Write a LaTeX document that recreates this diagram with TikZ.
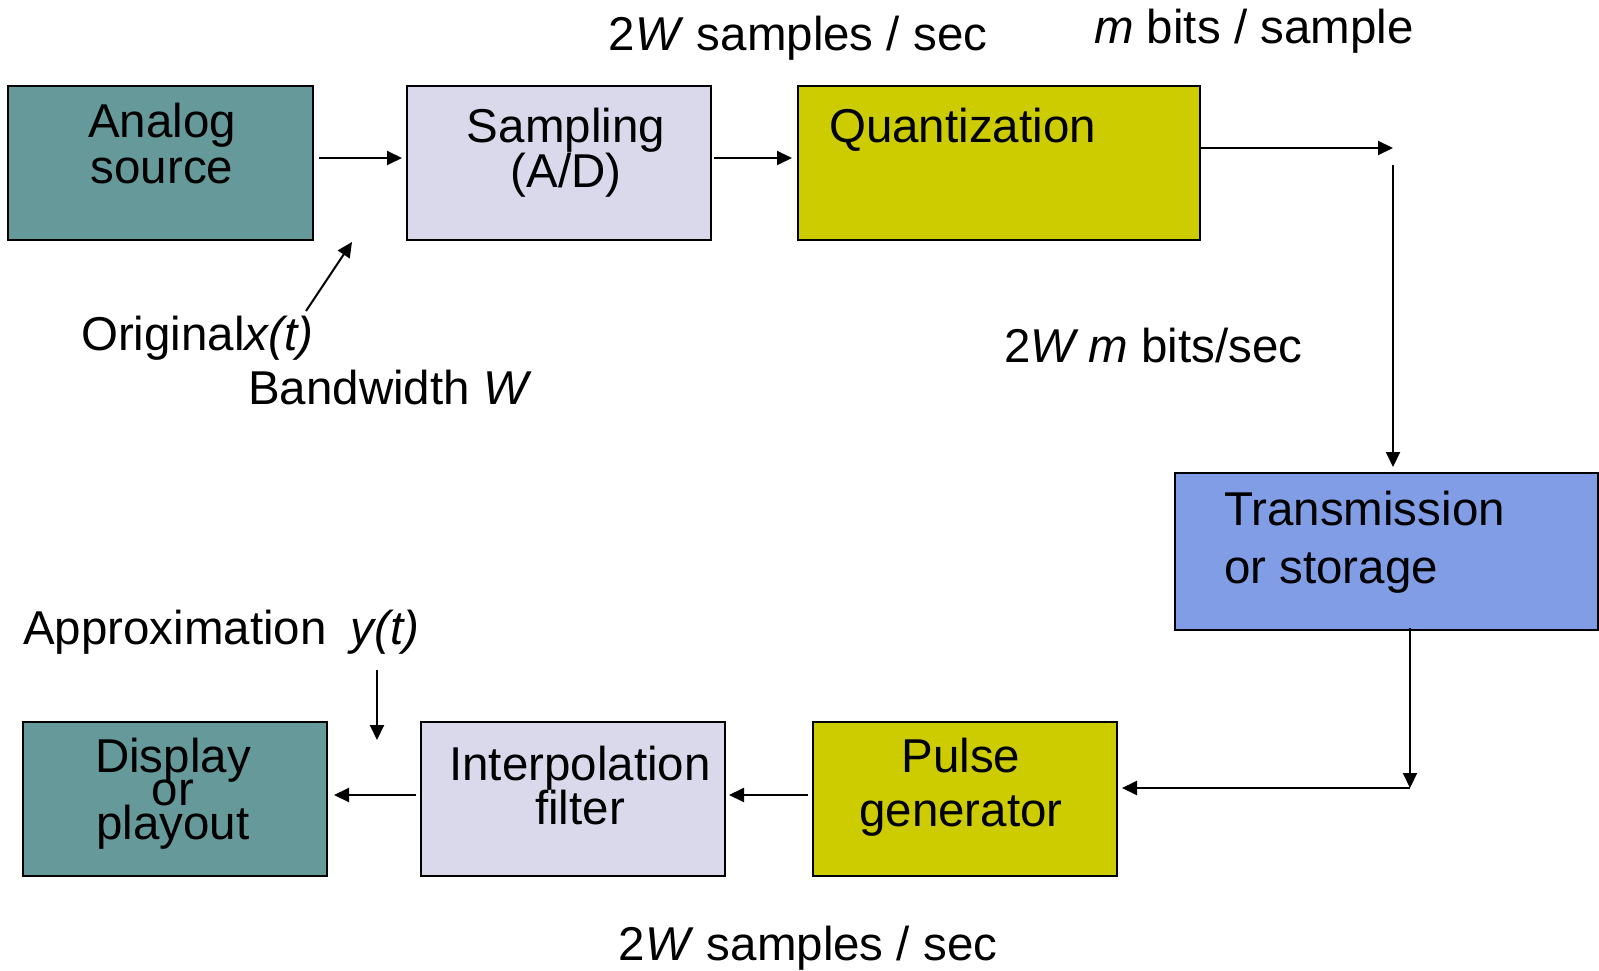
\documentclass[tikz,border=0pt]{standalone}
\usepackage{fontspec}
\setmainfont{Liberation Sans}
\usetikzlibrary{arrows.meta,calc}
\definecolor{tealbox}{RGB}{102,153,153}
\definecolor{lavbox}{RGB}{217,217,235}
\definecolor{yelbox}{RGB}{204,204,0}
\definecolor{bluebox}{RGB}{128,157,230}
\tikzset{
  box/.style={draw=black,line width=2.5pt,rectangle,outer sep=0pt,inner sep=0pt},
  arr/.style={line width=2pt,-{Triangle[length=15pt,width=14pt]}},
  plain/.style={line width=2pt},
  txt/.style={inner sep=0pt,anchor=base,font=\fontsize{47.5}{47.5}\selectfont},
  txtl/.style={txt,anchor=base west}
}
\begin{document}
\begin{tikzpicture}[x=1pt,y=-1pt]
\useasboundingbox (0,0) rectangle (1599,971);
% boxes
\node[box,fill=tealbox,minimum width=305pt,minimum height=154pt] (analog) at (160.5,163) {};
\node[box,fill=lavbox,minimum width=304pt,minimum height=154pt] (sampling) at (559,163) {};
\node[box,fill=yelbox,minimum width=402pt,minimum height=154pt] (quant) at (999,163) {};
\node[box,fill=bluebox,minimum width=423pt,minimum height=157pt] (trans) at (1386.5,551.5) {};
\node[box,fill=tealbox,minimum width=304pt,minimum height=154pt] (display) at (175,799) {};
\node[box,fill=lavbox,minimum width=304pt,minimum height=154pt] (interp) at (573,799) {};
\node[box,fill=yelbox,minimum width=304pt,minimum height=154pt] (pulse) at (965,799) {};
% box texts
\node[txt] (analog1) at (162,138) {Analog};
\node[txt] (analog2) at (162,183) {source};
\node[txt] (samp1) at (566,143) {Sampling};
\node[txt] (samp2) at (566,188) {(A/D)};
\node[txtl] (quanttxt) at (829,143) {Quantization};
\node[txtl] (trans1) at (1224,525) {Transmission};
\node[txtl] (trans2) at (1224,583) {or storage};
\node[txt] (disp1) at (173,772) {Display};
\node[txt] (disp2) at (173,805) {or};
\node[txt] (disp3) at (173,839) {playout};
\node[txt] (interp1) at (580,780) {Interpolation};
\node[txt] (interp2) at (580,824) {filter};
\node[txt] (pulse1) at (961,772) {Pulse};
\node[txt] (pulse2) at (961,826) {generator};
% free labels
\node[txt] (rate1) at (798,51) {2\textit{W} samples / sec};
\node[txtl] (bits) at (1094,44) {\textit{m} bits / sample};
\node[txtl] (orig) at (81,350) {Original\textit{x(t)}};
\node[txtl] (bw) at (248,404) {Bandwidth \textit{W}};
\node[txtl] (rate2) at (1004,362) {2\textit{W m} bits/sec};
\node[txtl] (approx) at (23,644) {Approximation\hspace{0.5em}\textit{y(t)}};
\node[txt] (rate3) at (808,960) {2\textit{W} samples / sec};
% coordinates
\coordinate (c1) at (1393,148);
\coordinate (c2) at (1393,165);
\coordinate (c3) at (1410,788);
\coordinate (xa) at (306,311);
\coordinate (xb) at (352,242);
\coordinate (ya) at (377,670);
\coordinate (yb) at (377,740);
% connectors
\draw[arr] ([xshift=6pt,yshift=5pt]analog.east) -- ([xshift=-5pt,yshift=5pt]sampling.west);
\draw[arr] ([xshift=3pt,yshift=5pt]sampling.east) -- ([xshift=-6pt,yshift=5pt]quant.west);
\draw[arr] ([yshift=15pt]quant.east) -- (c1);
\draw[arr] (c2) -- ([yshift=6pt]c2 |- trans.north);
\draw[arr] ([yshift=2pt]trans.south -| c3) -- (c3);
\draw[arr] (c3) -- ([xshift=5pt]c3 -| pulse.east);
\draw[arr] ([xshift=-5pt,yshift=4pt]pulse.west) -- ([xshift=4pt,yshift=4pt]interp.east);
\draw[arr] ([xshift=-5pt,yshift=4pt]interp.west) -- ([xshift=7pt,yshift=4pt]display.east);
\draw[arr] (xa) -- (xb);
\draw[arr] (ya) -- (yb);
\end{tikzpicture}
\end{document}
